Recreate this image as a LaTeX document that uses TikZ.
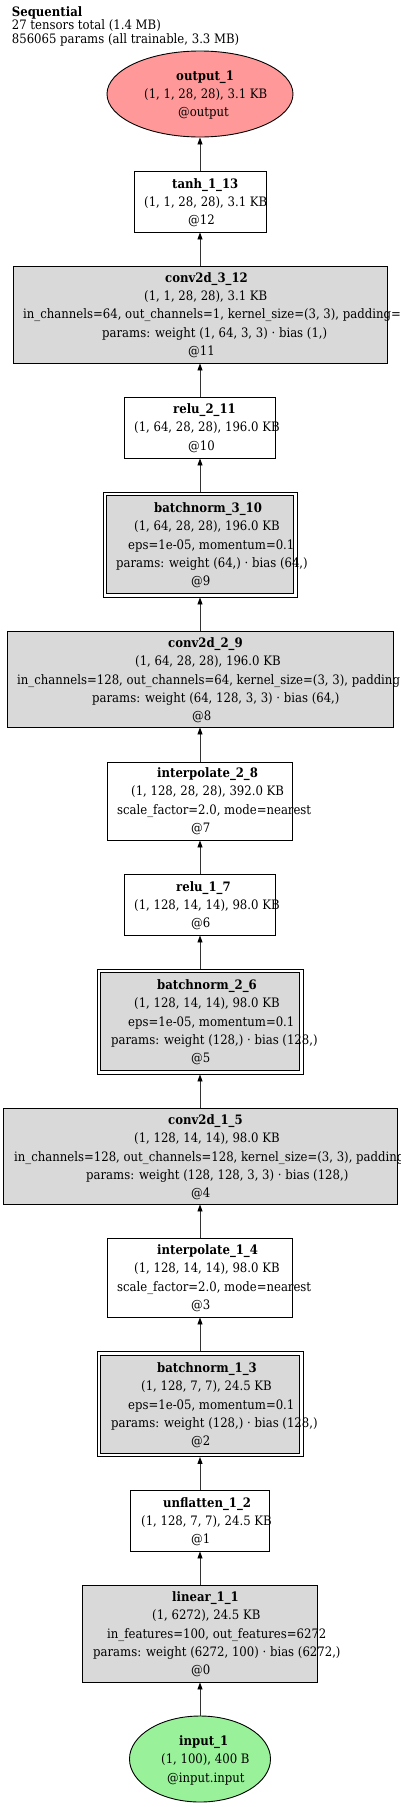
\documentclass[tikz,border=0pt]{standalone}
\usepackage{fontspec}
\setmainfont{DejaVu Serif Condensed}
\usetikzlibrary{arrows.meta,shapes.geometric}
\definecolor{boxgray}{HTML}{D9D9D9}
\definecolor{outred}{HTML}{FF9999}
\definecolor{ingreen}{HTML}{99F299}
\begin{document}
\begin{tikzpicture}[x=1pt,y=-1pt,
  txt/.style={anchor=base west,inner sep=0pt,font=\fontsize{13}{15}\selectfont},
  hdr/.style={anchor=base west,inner sep=0pt,font=\fontsize{13}{15}\selectfont\bfseries},
  plainbox/.style={draw=black,line width=0.9pt,fill=white,rectangle,inner sep=0pt},
  parambox/.style={plainbox,fill=boxgray},
  ovalnode/.style={draw=black,line width=0.9pt,ellipse,inner sep=0pt},
  edge/.style={draw=black!80,line width=0.9pt,-{Triangle[length=7pt,width=5pt,black]}}
]
\useasboundingbox (0,0) rectangle (400,1807);
\clip (0,0) rectangle (400,1807);

% title
\node[hdr] (ti1) at (11.7,16.7) {Sequential};
\node[txt] (ti2) at (11.7,29.7) {27 tensors total (1.4 MB)};
\node[txt] (ti3) at (11.7,43.2) {856065 params (all trainable, 3.3 MB)};

% shapes
\node[ovalnode,fill=outred,minimum width=186pt,minimum height=86pt] (output) at (200,94) {};
\node[plainbox,minimum width=132pt,minimum height=61pt] (tanh) at (200,201.5) {};
\node[parambox,minimum width=374pt,minimum height=97pt] (conv3) at (200,314.5) {};
\node[plainbox,minimum width=151pt,minimum height=61pt] (relu2) at (200,427.5) {};
\node[plainbox,minimum width=194pt,minimum height=105pt] (bn3) at (200,544.5) {};
\node[parambox,minimum width=187pt,minimum height=98pt] (bn3in) at (200,544.5) {};
\node[parambox,minimum width=386pt,minimum height=96pt] (conv2) at (200,679) {};
\node[plainbox,minimum width=185pt,minimum height=78pt] (interp2) at (200,801) {};
\node[plainbox,minimum width=151pt,minimum height=61pt] (relu1) at (200,904.5) {};
\node[plainbox,minimum width=206pt,minimum height=105pt] (bn2) at (200,1021.5) {};
\node[parambox,minimum width=199pt,minimum height=98pt] (bn2in) at (200,1021.5) {};
\node[parambox,minimum width=394pt,minimum height=96pt] (conv1) at (200,1156) {};
\node[plainbox,minimum width=185pt,minimum height=79pt] (interp1) at (200,1277.5) {};
\node[plainbox,minimum width=206pt,minimum height=105pt] (bn1) at (200,1404) {};
\node[parambox,minimum width=199pt,minimum height=98pt] (bn1in) at (200,1404) {};
\node[plainbox,minimum width=139pt,minimum height=61pt] (unflat) at (200,1520.5) {};
\node[parambox,minimum width=235pt,minimum height=97pt] (linear) at (200,1633.5) {};
\node[ovalnode,fill=ingreen,minimum width=141pt,minimum height=86pt] (input) at (200,1759) {};

% edges
\draw[edge] (input.north) -- (linear.south);
\draw[edge] (linear.north) -- (unflat.south);
\draw[edge] (unflat.north) -- (bn1.south);
\draw[edge] (bn1.north) -- (interp1.south);
\draw[edge] (interp1.north) -- (conv1.south);
\draw[edge] (conv1.north) -- (bn2.south);
\draw[edge] (bn2.north) -- (relu1.south);
\draw[edge] (relu1.north) -- (interp2.south);
\draw[edge] (interp2.north) -- (conv2.south);
\draw[edge] (conv2.north) -- (bn3.south);
\draw[edge] (bn3.north) -- (relu2.south);
\draw[edge] (relu2.north) -- (conv3.south);
\draw[edge] (conv3.north) -- (tanh.south);
\draw[edge] (tanh.north) -- (output.south);

% texts
\node[hdr] (o1) at (176,80) {output\_1};
\node[txt] (o2) at (144,98.3) {(1, 1, 28, 28), 3.1 KB};
\node[txt] (o3) at (178,116.6) {@output};

\node[hdr] (a1) at (172,188) {tanh\_1\_13};
\node[txt] (a2) at (144,206) {(1, 1, 28, 28), 3.1 KB};
\node[txt] (a3) at (188,224) {@12};

\node[hdr] (b1) at (165,282) {conv2d\_3\_12};
\node[txt] (b2) at (144,300.5) {(1, 1, 28, 28), 3.1 KB};
\node[txt] (b3) at (23,318.8) {in\_channels=64, out\_channels=1, kernel\_size=(3, 3), padding=(1, 1)};
\node[txt] (b4) at (102,337) {params: weight (1, 64, 3, 3) · bias (1,)};
\node[txt] (b5) at (188,355) {@11};

\node[hdr] (c1) at (173,413) {relu\_2\_11};
\node[txt] (c2) at (134,431.5) {(1, 64, 28, 28), 196.0 KB};
\node[txt] (c3) at (188,450) {@10};

\node[hdr] (d1) at (154,512) {batchnorm\_3\_10};
\node[txt] (d2) at (134,530.5) {(1, 64, 28, 28), 196.0 KB};
\node[txt] (d3) at (128,549) {eps=1e-05, momentum=0.1};
\node[txt] (d4) at (116,567) {params: weight (64,) · bias (64,)};
\node[txt] (d5) at (191,585) {@9};

\node[hdr] (e1) at (168,647) {conv2d\_2\_9};
\node[txt] (e2) at (135,665.5) {(1, 64, 28, 28), 196.0 KB};
\node[txt] (e3) at (17,684) {in\_channels=128, out\_channels=64, kernel\_size=(3, 3), padding=(1, 1)};
\node[txt] (e4) at (92,702) {params: weight (64, 128, 3, 3) · bias (64,)};
\node[txt] (e5) at (192,720) {@8};

\node[hdr] (f1) at (157,777) {interpolate\_2\_8};
\node[txt] (f2) at (131,795.5) {(1, 128, 28, 28), 392.0 KB};
\node[txt] (f3) at (117,814) {scale\_factor=2.0, mode=nearest};
\node[txt] (f4) at (191,832) {@7};

\node[hdr] (g1) at (176,891) {relu\_1\_7};
\node[txt] (g2) at (134,909) {(1, 128, 14, 14), 98.0 KB};
\node[txt] (g3) at (191,927) {@6};

\node[hdr] (h1) at (157,989) {batchnorm\_2\_6};
\node[txt] (h2) at (134,1007.5) {(1, 128, 14, 14), 98.0 KB};
\node[txt] (h3) at (128,1026) {eps=1e-05, momentum=0.1};
\node[txt] (h4) at (111,1044) {params: weight (128,) · bias (128,)};
\node[txt] (h5) at (191,1062) {@5};

\node[hdr] (i1) at (168,1124) {conv2d\_1\_5};
\node[txt] (i2) at (134,1142.5) {(1, 128, 14, 14), 98.0 KB};
\node[txt] (i3) at (14,1161) {in\_channels=128, out\_channels=128, kernel\_size=(3, 3), padding=(1, 1)};
\node[txt] (i4) at (86,1179) {params: weight (128, 128, 3, 3) · bias (128,)};
\node[txt] (i5) at (191,1197) {@4};

\node[hdr] (j1) at (157,1254) {interpolate\_1\_4};
\node[txt] (j2) at (134,1272.5) {(1, 128, 14, 14), 98.0 KB};
\node[txt] (j3) at (117,1291) {scale\_factor=2.0, mode=nearest};
\node[txt] (j4) at (191,1309) {@3};

\node[hdr] (k1) at (157,1372) {batchnorm\_1\_3};
\node[txt] (k2) at (141,1390.5) {(1, 128, 7, 7), 24.5 KB};
\node[txt] (k3) at (128,1409) {eps=1e-05, momentum=0.1};
\node[txt] (k4) at (111,1427) {params: weight (128,) · bias (128,)};
\node[txt] (k5) at (191,1445) {@2};

\node[hdr] (l1) at (163,1507) {unflatten\_1\_2};
\node[txt] (l2) at (141,1525) {(1, 128, 7, 7), 24.5 KB};
\node[txt] (l3) at (191,1543) {@1};

\node[hdr] (m1) at (172,1601) {linear\_1\_1};
\node[txt] (m2) at (152,1619.5) {(1, 6272), 24.5 KB};
\node[txt] (m3) at (107,1638) {in\_features=100, out\_features=6272};
\node[txt] (m4) at (93,1656) {params: weight (6272, 100) · bias (6272,)};
\node[txt] (m5) at (191,1674) {@0};

\node[hdr] (n1) at (179,1745) {input\_1};
\node[txt] (n2) at (161,1763.5) {(1, 100), 400 B};
\node[txt] (n3) at (167,1782) {@input.input};
\end{tikzpicture}
\end{document}
